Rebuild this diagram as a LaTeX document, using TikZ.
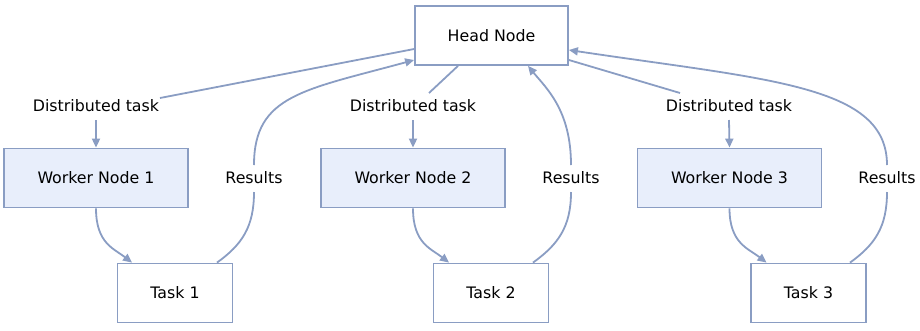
\documentclass[tikz,border=0pt]{standalone}
\usepackage{fontspec}
\setmainfont{DejaVu Sans}
\usetikzlibrary{calc,arrows.meta}
\definecolor{edgec}{HTML}{8A9DC3}
\definecolor{boxc}{HTML}{8A9DC3}
\definecolor{workfill}{HTML}{E8EEFB}
\begin{document}
\begin{tikzpicture}[x=1pt,y=-1pt,
  box/.style={draw=boxc,line width=1.8pt,fill=white,minimum height=59pt,inner sep=0pt,font=\fontsize{15.8}{18}\selectfont},
  workbox/.style={box,fill=workfill,minimum width=184pt},
  taskbox/.style={box,minimum width=115pt},
  lbl/.style={inner sep=1pt,font=\fontsize{15.8}{18}\selectfont},
  conn/.style={draw=edgec,line width=1.8pt},
  arr/.style={conn,-{Triangle[length=9pt,width=8pt]}}]
\useasboundingbox (0,0) rectangle (920,330);
\node[box,minimum width=153pt] (head) at (491.5,35.5) {Head Node};
\node[workbox] (w1) at (96,178) {Worker Node 1};
\node[workbox] (w2) at (413,178) {Worker Node 2};
\node[workbox] (w3) at (729.5,178) {Worker Node 3};
\node[taskbox] (t1) at (175,293) {Task 1};
\node[taskbox] (t2) at (491,293) {Task 2};
\node[taskbox] (t3) at (808.5,293) {Task 3};
\node[lbl] (l1) at (96,106) {Distributed task};
\node[lbl] (l2) at (413,106) {Distributed task};
\node[lbl] (l3) at (729,106) {Distributed task};
\node[lbl] (r1) at (254,178) {Results};
\node[lbl] (r2) at (571,178) {Results};
\node[lbl] (r3) at (887,178) {Results};
% head to workers
\draw[conn] ($(head.west)+(0,13.5)$) -- ($(l1)+(64,-8)$);
\draw[arr] ($(l1)+(0,14)$) -- (w1.north);
\draw[conn] ($(head.south)+(-33.5,0)$) -- ($(l2)+(16,-13)$);
\draw[arr] ($(l2)+(0,14)$) -- (w2.north);
\draw[conn] ($(head.east)+(0,24.5)$) -- ($(l3)+(-49,-13)$);
\draw[arr] ($(l3)+(0,14)$) -- (w3.north);
% workers to tasks
\draw[arr] (w1.south) .. controls +(0,35) and +(-18,-14) .. ($(t1.north)+(-43,0)$);
\draw[arr] (w2.south) .. controls +(0,35) and +(-18,-14) .. ($(t2.north)+(-42,0)$);
\draw[arr] (w3.south) .. controls +(0,35) and +(-18,-14) .. ($(t3.north)+(-42,0)$);
% results
\draw[conn] ($(t1.north)+(42,0)$) .. controls +(25,-18) and +(0,35) .. ($(r1)+(0,14)$);
\draw[arr] ($(r1)+(0,-13)$) .. controls +(0,-70) and +(-110,30) .. ($(head.west)+(0,24.5)$);
\draw[conn] ($(t2.north)+(42,0)$) .. controls +(25,-18) and +(0,35) .. ($(r2)+(0,14)$);
\draw[arr] ($(r2)+(0,-13)$) .. controls +(0,-55) and +(18,22) .. ($(head.south)+(36.5,0)$);
\draw[conn] ($(t3.north)+(41.5,0)$) .. controls +(25,-18) and +(0,35) .. ($(r3)+(0,14)$);
\draw[arr] ($(r3)+(0,-13)$) .. controls +(0,-80) and +(200,30) .. ($(head.east)+(0,14.5)$);
\end{tikzpicture}
\end{document}
